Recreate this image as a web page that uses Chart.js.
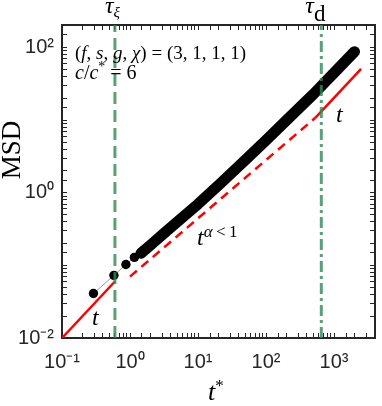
<!DOCTYPE html>
<html>
<head>
<meta charset="utf-8">
<script src="https://cdn.jsdelivr.net/npm/chart.js@4.4.0/dist/chart.umd.min.js"></script>
<style>
  html, body { margin: 0; padding: 0; background: #fff; }
</style>
</head>
<body>
<canvas id="msdChart" width="382" height="406"></canvas>
<script>
// early simulation points (resolved markers)
const tEarly = [0.29, 0.58, 0.87, 1.16, 1.45, 1.74, 2.03, 2.32, 2.61, 2.9];
const msdEarly = [0.041, 0.073, 0.103, 0.129, 0.147, 0.17, 0.19, 0.21, 0.235, 0.26];
// dense part of the MSD curve (markers merge into a band)
const tDense = [1.45, 2, 3, 5, 10, 20, 50, 100, 200, 500, 1000, 2000];
const msdDense = [0.147, 0.19, 0.265, 0.40, 0.70, 1.27, 2.85, 5.3, 10, 23, 45, 88];
// guide lines: t, t^alpha, t
const tShort = [0.1, 0.6];
const msdShort = [0.01, 0.06];
const tSub = [1, 530];
const msdSub = [0.07, 10.8];
const tLong = [530, 2500];
const msdLong = [10.8, 51];
// characteristic times
const tauXi = 0.6;
const tauD = 650;
// labelled decades
const xTickExp = [-1, 0, 1, 2, 3];
const yTickExp = [-2, 0, 2];

const X_MIN = 0.1, X_MAX = 4000, Y_MIN = 0.01, Y_MAX = 205;

const zip = (xs, ys) => xs.map((x, i) => ({ x: x, y: ys[i] }));
const SUP = { '-': '\u207B', '0': '\u2070', '1': '\u00B9', '2': '\u00B2', '3': '\u00B3' };
const decadeLabel = (v, allowed) => {
  const e = Math.round(Math.log10(v));
  if (Math.abs(Math.log10(v) - e) > 1e-6 || !allowed.includes(e)) return '';
  return '10' + String(e).split('').map(c => SUP[c]).join('');
};

const SERIF = '"Liberation Serif", "DejaVu Serif", serif';
const axisColor = '#262626';
const green = 'rgba(46, 139, 87, 0.8)';

function drawRuns(ctx, x, y, parts) {
  let cx = x;
  parts.forEach(p => {
    ctx.font = (p[2] ? 'italic ' : '') + p[1] + 'px ' + SERIF;
    ctx.fillText(p[0], cx, y + (p[3] || 0));
    cx += ctx.measureText(p[0]).width;
  });
}

const textPlugin = {
  id: 'texts',
  afterDraw(chart) {
    const ctx = chart.ctx;
    const xs = chart.scales.x;
    ctx.save();
    ctx.fillStyle = '#000';
    ctx.textBaseline = 'alphabetic';
    ctx.textAlign = 'left';

    // tau labels above the plot
    const pXi = xs.getPixelForValue(tauXi);
    drawRuns(ctx, pXi - 10, 13, [['\u03C4', 24, true], ['\u03BE', 15, true, 4]]);
    const pD = xs.getPixelForValue(tauD);
    drawRuns(ctx, pD - 16, 13, [['\u03C4', 24, true], ['d', 23, false, 8]]);

    // parameter box
    drawRuns(ctx, 75, 59, [['(', 19], ['f', 19, true], [', ', 19], ['s', 19, true], [', ', 19],
      ['g', 19, true], [', ', 19], ['\u03C7', 19, true], [') = (3, 1, 1, 1)', 19]]);
    drawRuns(ctx, 75, 79, [['c', 20, true], ['/', 20], ['c', 20, true], ['*', 14, false, -8], [' = 6', 20]]);

    // slope labels
    drawRuns(ctx, 92, 325, [['t', 24, true]]);
    drawRuns(ctx, 336, 122, [['t', 24, true]]);
    drawRuns(ctx, 197, 245, [['t', 24, true], ['\u03B1', 17, true, -8], ['\u2009<\u20091', 17, false, -8]]);

    // axis titles
    drawRuns(ctx, 208, 400, [['t', 26, true], ['*', 17, false, -9]]);
    ctx.translate(13, 150);
    ctx.rotate(-Math.PI / 2);
    ctx.textAlign = 'center';
    ctx.textBaseline = 'middle';
    ctx.font = '27px ' + SERIF;
    ctx.fillText('MSD', 0, 0);
    ctx.restore();
  }
};

// fixed box sizes so the plot frame lands where the reference has it
const fixBox = (w, h) => s => {
  if (w !== null) s.width = w;
  if (h !== null) s.height = h;
  s.paddingLeft = s.paddingRight = s.paddingTop = s.paddingBottom = 0;
};

const gridOpts = { drawOnChartArea: false, drawTicks: true, tickLength: -5, tickColor: axisColor, tickWidth: 1 };
const borderOpts = { display: true, color: axisColor, width: 2 };
const tickFont = { family: '"Liberation Sans", Arial, sans-serif', size: 20 };

new Chart(document.getElementById('msdChart').getContext('2d'), {
  type: 'line',
  data: {
    datasets: [
      {
        label: 'tau_xi',
        data: zip([tauXi, tauXi], [Y_MIN, Y_MAX]),
        borderColor: green, borderWidth: 3, borderDash: [12, 6],
        pointRadius: 0, order: 0
      },
      {
        label: 'tau_d',
        data: zip([tauD, tauD], [Y_MIN, Y_MAX]),
        borderColor: green, borderWidth: 3, borderDash: [11, 4, 3, 4],
        pointRadius: 0, order: 1
      },
      {
        label: 'MSD dense',
        data: zip(tDense, msdDense),
        borderColor: '#000', borderWidth: 11,
        borderCapStyle: 'round', borderJoinStyle: 'round',
        pointRadius: 0, order: 2
      },
      {
        label: 'MSD',
        data: zip(tEarly, msdEarly),
        borderColor: '#9a9a9a', borderWidth: 1,
        pointRadius: 4.7, pointBackgroundColor: '#000', pointBorderColor: '#000', pointBorderWidth: 0,
        order: 3
      },
      {
        label: 't short',
        data: zip(tShort, msdShort),
        borderColor: '#ff0000', borderWidth: 2.5, pointRadius: 0, order: 4
      },
      {
        label: 't^alpha',
        data: zip(tSub, msdSub),
        borderColor: '#ff0000', borderWidth: 2.5, borderDash: [9, 6], pointRadius: 0, order: 5
      },
      {
        label: 't long',
        data: zip(tLong, msdLong),
        borderColor: '#ff0000', borderWidth: 2.5, pointRadius: 0, order: 6
      }
    ]
  },
  options: {
    responsive: false,
    animation: false,
    devicePixelRatio: 1,
    layout: { padding: 0 },
    plugins: { legend: { display: false }, tooltip: { enabled: false } },
    scales: {
      x: {
        type: 'logarithmic', position: 'bottom', min: X_MIN, max: X_MAX,
        afterFit: fixBox(null, 68),
        border: borderOpts, grid: gridOpts,
        ticks: {
          autoSkip: false, maxRotation: 0, padding: 17, color: axisColor, font: tickFont,
          callback: v => decadeLabel(v, xTickExp)
        }
      },
      x2: {
        type: 'logarithmic', position: 'top', min: X_MIN, max: X_MAX,
        afterFit: fixBox(null, 25),
        border: borderOpts, grid: gridOpts,
        ticks: { display: false }
      },
      y: {
        type: 'logarithmic', position: 'left', min: Y_MIN, max: Y_MAX,
        afterFit: fixBox(62, null),
        border: borderOpts, grid: gridOpts,
        ticks: {
          autoSkip: false, padding: 13, color: axisColor, font: tickFont,
          callback: v => decadeLabel(v, yTickExp)
        }
      },
      y2: {
        type: 'logarithmic', position: 'right', min: Y_MIN, max: Y_MAX,
        afterFit: fixBox(7, null),
        border: borderOpts, grid: gridOpts,
        ticks: { display: false }
      }
    }
  },
  plugins: [textPlugin]
});
</script>
</body>
</html>
